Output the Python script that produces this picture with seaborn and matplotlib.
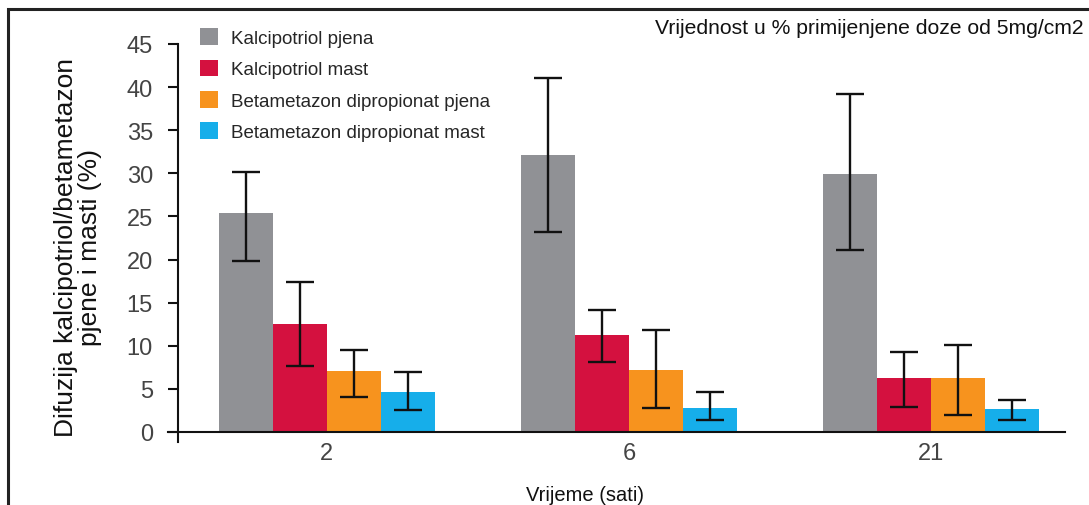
import matplotlib
matplotlib.use("Agg")
import matplotlib.pyplot as plt
from matplotlib.patches import Rectangle
import seaborn as sns
import pandas as pd

# Data
times = ["2", "6", "21"]
series = ["Kalcipotriol pjena", "Kalcipotriol mast",
          "Betametazon dipropionat pjena", "Betametazon dipropionat mast"]
values = {
    "Kalcipotriol pjena": [25.4, 32.1, 29.9],
    "Kalcipotriol mast": [12.5, 11.2, 6.3],
    "Betametazon dipropionat pjena": [7.1, 7.2, 6.3],
    "Betametazon dipropionat mast": [4.6, 2.8, 2.7],
}
err_low = {
    "Kalcipotriol pjena": [19.8, 23.2, 21.1],
    "Kalcipotriol mast": [7.6, 8.1, 2.9],
    "Betametazon dipropionat pjena": [4.1, 2.8, 2.0],
    "Betametazon dipropionat mast": [2.6, 1.4, 1.4],
}
err_high = {
    "Kalcipotriol pjena": [30.1, 41.1, 39.2],
    "Kalcipotriol mast": [17.4, 14.1, 9.3],
    "Betametazon dipropionat pjena": [9.5, 11.8, 10.1],
    "Betametazon dipropionat mast": [7.0, 4.6, 3.7],
}
colors = ["#909195", "#d4113f", "#f7931e", "#16aeea"]

rows = []
for s in series:
    for t, v in zip(times, values[s]):
        rows.append({"Vrijeme": t, "Serija": s, "Vrijednost": v})
df = pd.DataFrame(rows)

sns.set_style("white")
plt.rcParams["font.family"] = ["Liberation Sans", "DejaVu Sans"]

fig = plt.figure(figsize=(10.89, 5.06), dpi=100)
ax = fig.add_axes([168 / 1089, 63 / 506, (1065 - 168) / 1089, (443 - 45) / 506])

sns.barplot(data=df, x="Vrijeme", y="Vrijednost", hue="Serija", order=times,
            hue_order=series, palette=colors, width=0.715, gap=0,
            errorbar=None, saturation=1, ax=ax, linewidth=0)

# error bars on top of each bar
for s, cont in zip(series, ax.containers):
    xs = [b.get_x() + b.get_width() / 2 for b in cont]
    ys = values[s]
    lo = [y - l for y, l in zip(ys, err_low[s])]
    hi = [h - y for y, h in zip(ys, err_high[s])]
    ax.errorbar(xs, ys, yerr=[lo, hi], fmt="none", ecolor="#111111",
                elinewidth=1.7, capsize=10, capthick=1.7, zorder=5)

ax.set_xlim(-0.526, 2.444)
ax.set_ylim(-1.16, 45)
ax.set_yticks(range(0, 46, 5))

for side in ["top", "right"]:
    ax.spines[side].set_visible(False)
ax.spines["bottom"].set_position(("data", 0))
ax.spines["left"].set_position(("data", -0.493))
for side in ["bottom", "left"]:
    ax.spines[side].set_linewidth(1.5)
    ax.spines[side].set_color("#111111")

ax.tick_params(axis="y", direction="out", length=7, width=1.5, color="#111111",
               labelsize=17, labelcolor="#444444", pad=11, left=True)
ax.tick_params(axis="x", length=0, labelsize=17, labelcolor="#444444", pad=7)

ax.set_xlabel("Vrijeme (sati)", fontsize=14.5, color="#111111")
ax.xaxis.set_label_coords(0.465, -0.108)
ax.set_ylabel("Difuzija kalcipotriol/betametazon\npjene i masti (%)",
              fontsize=19, color="#111111", linespacing=1.0)
ax.yaxis.set_label_coords(-0.074, 0.49)

ax.legend(loc="upper left", bbox_to_anchor=(0.027, 1.058), frameon=False,
          fontsize=13.5, handlelength=1.0, handleheight=1.0, labelspacing=0.66,
          handletextpad=0.65, borderaxespad=0)

fig.text(1084 / 1089, 1 - 28 / 506, "Vrijednost u % primijenjene doze od 5mg/cm2",
         ha="right", va="center", fontsize=15.2, color="#111111")

fig.patches.append(Rectangle((8 / 1089, -0.1), 1.2, 496 / 506 + 0.1,
                             transform=fig.transFigure, fill=False,
                             lw=2.2, ec="#222222"))

fig.savefig("out.png", dpi=100)
